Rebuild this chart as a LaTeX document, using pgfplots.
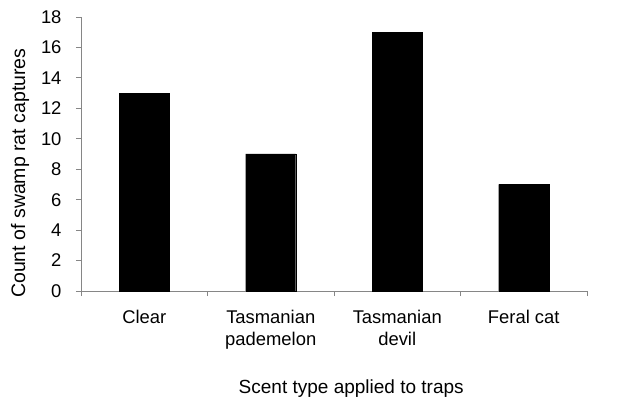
\documentclass[border=0pt]{standalone}
\usepackage{pgfplots}
\pgfplotsset{compat=1.18}
\usepackage{fontspec}
\setmainfont{Liberation Sans}
\definecolor{axisgray}{HTML}{868686}
\begin{document}
\begin{tikzpicture}
\path (-81bp,-107bp) rectangle (551bp,291bp);
\begin{axis}[
  at={(0,0)}, anchor=south west,
  scale only axis, width=506bp, height=274bp,
  xmin=-0.5, xmax=3.5, ymin=0, ymax=18,
  ytick={0,2,...,18},
  xtick={0,1,2,3},
  xticklabels={Clear,Tasmanian\\pademelon,Tasmanian\\devil,Feral cat},
  axis x line*=bottom, axis y line*=left,
  axis line style={draw=axisgray, line width=0.8bp},
  tick align=outside, major tick length=5bp,
  ytick style={draw=axisgray, line width=0.8bp},
  xtick style={draw=none},
  extra x ticks={-0.5,0.5,1.5,2.5,3.5},
  extra x tick labels={},
  extra x tick style={xtick style={draw=axisgray, line width=0.8bp}},
  /pgf/number format/assume math mode=true,
  tick label style={font=\fontsize{18.4bp}{22bp}\selectfont, text=black},
  xticklabel style={align=center, yshift=-11bp},
  yticklabel style={xshift=-11bp},
  ylabel={Count of swamp rat captures},
  xlabel={Scent type applied to traps},
  ylabel style={font=\fontsize{19.5bp}{23bp}\selectfont, at={(axis description cs:-0.1206,0.43)}, anchor=center, rotate=0},
  xlabel style={font=\fontsize{19bp}{23bp}\selectfont, at={(axis description cs:0.534,-0.356)}, anchor=center},
  ybar, bar width=50bp,
  clip=false,
]
\addplot[fill=black, draw=black] coordinates {(0,13) (1,9) (2,17) (3,7)};
\end{axis}
\end{tikzpicture}
\end{document}
